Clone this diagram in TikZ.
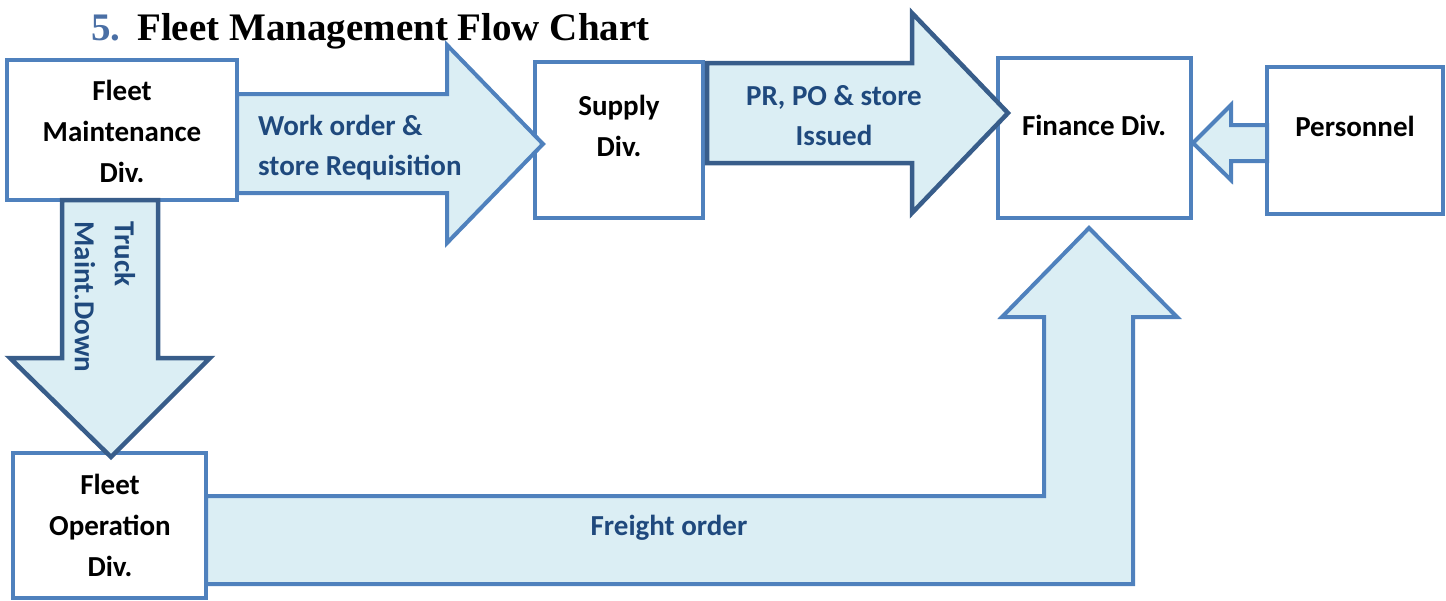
\documentclass[tikz,border=0pt]{standalone}
\usepackage{fontspec}
\setmainfont{Carlito}
\newfontfamily\titlefont{Liberation Serif}
\definecolor{boxblue}{HTML}{4F81BD}
\definecolor{arrfill}{HTML}{DBEEF4}
\definecolor{darkblue}{HTML}{385D8A}
\definecolor{labblue}{HTML}{1F497D}
\definecolor{numblue}{HTML}{4A6FA5}
\begin{document}
\begin{tikzpicture}[x=1pt,y=-1pt,
  box/.style={draw=boxblue, line width=4pt, fill=white, inner sep=0pt},
  txt/.style={font=\bfseries\fontsize{29}{41}\selectfont, align=center, text=black, inner sep=0pt},
  lab/.style={font=\bfseries\fontsize{29}{40}\selectfont, text=labblue, inner sep=0pt},
  barrow/.style={draw=boxblue, line width=4pt, fill=arrfill, line join=miter},
  darrow/.style={draw=darkblue, line width=4.5pt, fill=arrfill, line join=miter},
  ttl/.style={font=\titlefont\bfseries\fontsize{39}{44}\selectfont, inner sep=0pt, anchor=base west}]
\useasboundingbox (0,0) rectangle (1446,600);

% boxes
\node[box, minimum width=230pt, minimum height=140pt] (fm) at (122,130) {};
\node[box, minimum width=168pt, minimum height=156pt] (sup) at (619,140) {};
\node[box, minimum width=193pt, minimum height=160pt] (fin) at (1094.5,138) {};
\node[box, minimum width=176pt, minimum height=147pt] (per) at (1355,140.5) {};
\node[box, minimum width=193pt, minimum height=145pt] (fo) at (109.5,525.5) {};

% block arrows
\draw[barrow] (237,94) -- (447,94) -- (447,45) -- (543,144) -- (447,243) -- (447,193) -- (237,193) -- cycle;
\draw[darrow] (707,63) -- (912,63) -- (912,13) -- (1008,113) -- (912,213) -- (912,163) -- (707,163) -- cycle;
\draw[barrow] (1267,125) -- (1231,125) -- (1231,105) -- (1193,143) -- (1231,180) -- (1231,161) -- (1267,161) -- cycle;
\draw[darrow] (62,200) -- (158,200) -- (158,358) -- (210,358) -- (111,457) -- (10,358) -- (62,358) -- cycle;
\draw[barrow] (206,496) -- (1044,496) -- (1044,317) -- (1002,317) -- (1089,228) -- (1177,317) -- (1133,317) -- (1133,584) -- (206,584) -- cycle;

% box texts
\node[txt] (fmt) at (122,131) {Fleet\\Maintenance\\Div.};
\node[txt] (supt) at (619,125.5) {Supply\\Div.};
\node[txt] (fint) at (1094,125) {Finance Div.};
\node[txt] (pert) at (1355,126) {Personnel};
\node[txt] (fot) at (110,525) {Fleet\\Operation\\Div.};

% arrow labels
\node[lab, align=left, anchor=west] (l1) at (258,147.5) {Work order \&\\store Requisition};
\node[lab, align=center] (l2) at (834,116) {PR, PO \& store\\Issued};
\node[lab, align=left, rotate=-90] (l3) at (105,297) {Truck\\Maint.Down};
\node[lab] (l4) at (669,528) {Freight order};

% title
\node[ttl, text=numblue] (tnum) at (91,40) {5.};
\node[ttl, text=black] (ttext) at (137,40) {Fleet Management Flow Chart};
\end{tikzpicture}
\end{document}
